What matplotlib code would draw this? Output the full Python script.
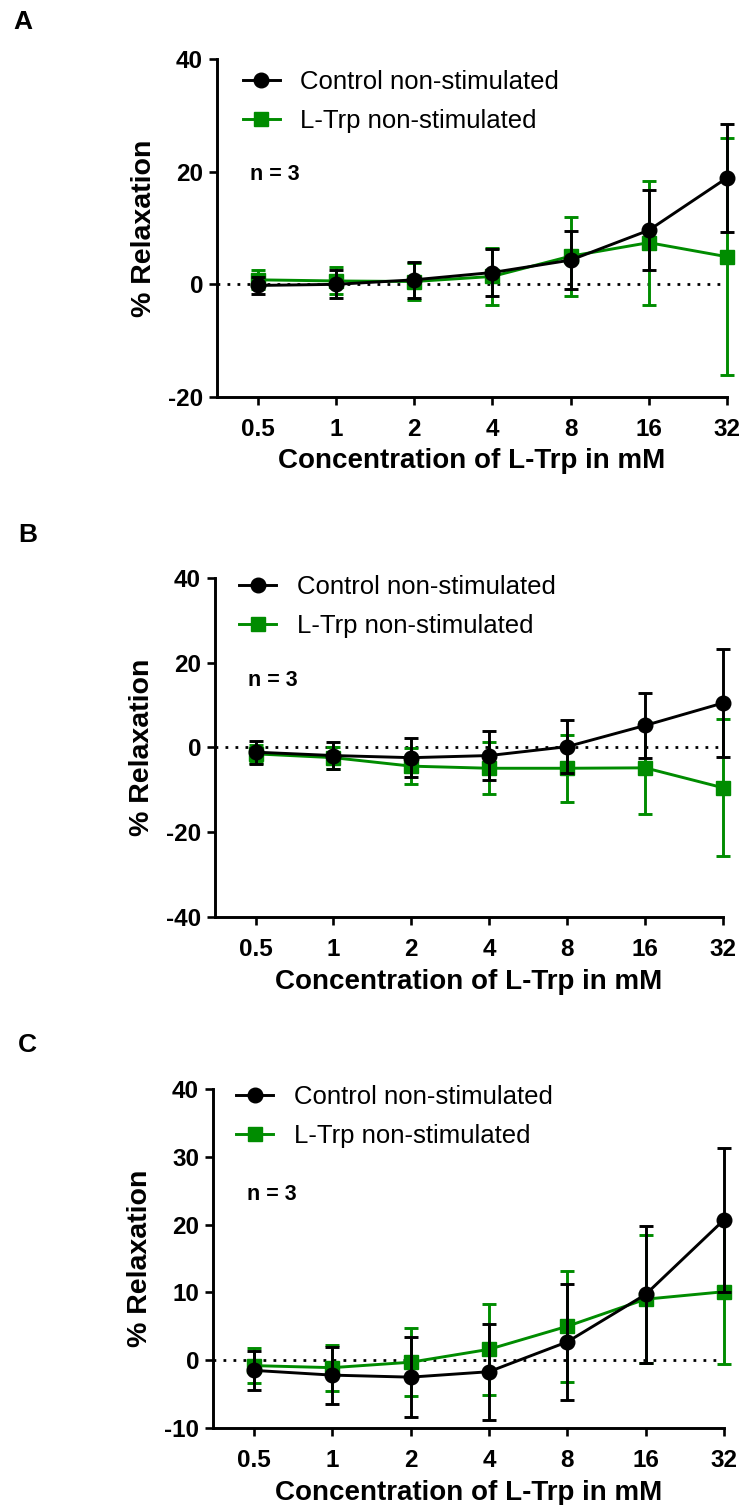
import matplotlib
matplotlib.use("Agg")
import matplotlib.pyplot as plt
from matplotlib.lines import Line2D

# ---------------- data ----------------
conc = [0.5, 1, 2, 4, 8, 16, 32]
conc_labels = ['0.5', '1', '2', '4', '8', '16', '32']

A_ctrl_mean = [-0.2, 0.0, 0.8, 2.1, 4.3, 9.6, 18.9]
A_ctrl_err = [1.5, 2.5, 3.2, 4.1, 5.1, 7.1, 9.6]
A_trp_mean = [0.8, 0.6, 0.5, 1.4, 5.0, 7.4, 4.9]
A_trp_err = [1.7, 2.4, 3.2, 5.1, 7.0, 11.0, 21.0]

B_ctrl_mean = [-1.1, -1.9, -2.4, -1.9, 0.2, 5.2, 10.5]
B_ctrl_err = [2.7, 3.2, 4.6, 5.8, 6.2, 7.7, 12.8]
B_trp_mean = [-1.5, -2.4, -4.4, -4.9, -4.9, -4.8, -9.5]
B_trp_err = [2.2, 2.6, 4.2, 6.1, 7.9, 10.8, 16.2]

C_ctrl_mean = [-1.5, -2.2, -2.5, -1.7, 2.7, 9.7, 20.7]
C_ctrl_err = [2.9, 4.2, 5.9, 7.1, 8.5, 10.1, 10.6]
C_trp_mean = [-0.8, -1.1, -0.3, 1.6, 5.0, 9.0, 10.1]
C_trp_err = [2.6, 3.4, 5.0, 6.7, 8.2, 9.4, 10.7]

A_yticks = [-20, 0, 20, 40]
B_yticks = [-40, -20, 0, 20, 40]
C_yticks = [-10, 0, 10, 20, 30, 40]

series_names = ['Control non-stimulated', 'L-Trp non-stimulated']
panel_letters = ['A', 'B', 'C']
n_text = 'n = 3'
xlabel_text = 'Concentration of L-Trp in mM'
ylabel_text = '% Relaxation'

# ---------------- style ----------------
W, H = 742, 1505
GREEN = '#008c00'
FONT = 'Liberation Sans'
LW = 2.1

fig = plt.figure(figsize=(W / 100, H / 100), dpi=100)

# pixel rectangles (left, right, top, bottom)
rects = [(217, 727, 59, 397), (215, 723, 578, 917), (213, 724, 1089, 1428)]
legend_anchor = [(0.050, 0.967), (0.047, 1.009), (0.045, 1.012)]
n_pos = [(0.064, 0.643), (0.064, 0.681), (0.066, 0.673)]
letter_pos = [(13, 29), (18, 542), (18, 1052)]

panels = [
    (A_ctrl_mean, A_ctrl_err, A_trp_mean, A_trp_err, A_yticks),
    (B_ctrl_mean, B_ctrl_err, B_trp_mean, B_trp_err, B_yticks),
    (C_ctrl_mean, C_ctrl_err, C_trp_mean, C_trp_err, C_yticks),
]

for i, (cm, ce, tm, te, yt) in enumerate(panels):
    l, r, t, b = rects[i]
    ax = fig.add_axes([l / W, 1 - b / H, (r - l) / W, (b - t) / H])
    ax.set_xscale('log', base=2)
    ax.set_xlim(0.5 * 2 ** -0.52, 32)
    ax.set_ylim(yt[0], yt[-1])

    ax.axhline(0, color='black', lw=2, linestyle=(0, (1, 2.6)), zorder=1)

    ax.errorbar(conc, tm, yerr=te, color=GREEN, marker='s', ms=9.5,
                lw=LW, elinewidth=LW, capsize=5, capthick=LW,
                clip_on=False, zorder=3)
    ax.errorbar(conc, cm, yerr=ce, color='black', marker='o', ms=10.5,
                lw=LW, elinewidth=LW, capsize=5, capthick=LW,
                clip_on=False, zorder=4)

    for s in ['top', 'right']:
        ax.spines[s].set_visible(False)
    for s in ['left', 'bottom']:
        ax.spines[s].set_linewidth(2.1)

    ax.set_xticks(conc)
    ax.set_xticklabels(conc_labels)
    ax.minorticks_off()
    ax.set_yticks(yt)
    ax.set_yticklabels([str(v) for v in yt])
    ax.tick_params(axis='both', length=5.5, width=1.9, direction='out',
                   labelsize=17.5)
    ax.tick_params(axis='x', pad=9.5)
    ax.tick_params(axis='y', pad=4.5)
    for lab in ax.get_xticklabels() + ax.get_yticklabels():
        lab.set_fontweight('bold')
        lab.set_fontfamily(FONT)

    ax.set_ylabel(ylabel_text, fontsize=20.5, fontweight='bold', family=FONT)
    ax.yaxis.set_label_coords(-0.118, 0.5)
    ax.set_xlabel(xlabel_text, fontsize=20, fontweight='bold', family=FONT)
    ax.xaxis.set_label_coords(0.5, -0.152)

    handles = [
        Line2D([], [], color='black', marker='o', ms=10.5, lw=LW),
        Line2D([], [], color=GREEN, marker='s', ms=9.5, lw=LW),
    ]
    ax.legend(handles, series_names, loc='upper left',
              bbox_to_anchor=legend_anchor[i], frameon=False,
              borderpad=0, borderaxespad=0, handlelength=1.45,
              handletextpad=0.8, labelspacing=0.58,
              prop={'family': FONT, 'size': 18.5})

    ax.text(n_pos[i][0], n_pos[i][1], n_text, transform=ax.transAxes,
            fontsize=15.5, fontweight='bold', family=FONT,
            ha='left', va='baseline')

    fig.text(letter_pos[i][0] / W, 1 - letter_pos[i][1] / H, panel_letters[i],
             fontsize=19, fontweight='bold', family=FONT,
             ha='left', va='baseline')

fig.savefig('out.png', dpi=100)
